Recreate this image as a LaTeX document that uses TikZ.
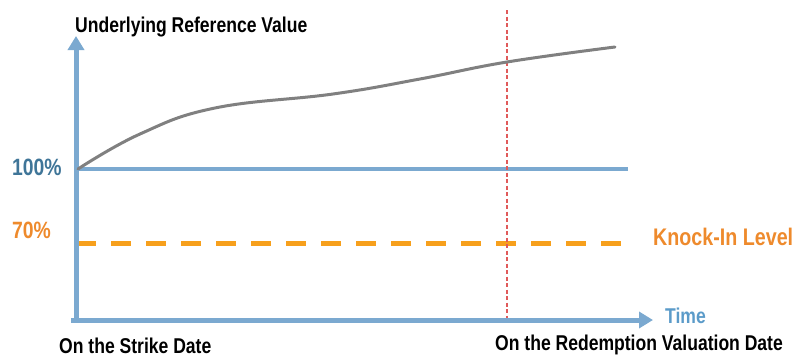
\documentclass[tikz,border=0pt]{standalone}
\usepackage{fontspec}
\setmainfont{Liberation Sans}[FakeStretch=0.82]
\usetikzlibrary{arrows.meta}
\definecolor{axisblue}{HTML}{7BA9D0}
\definecolor{darkblue}{HTML}{3F7598}
\definecolor{timeblue}{HTML}{5B9BC9}
\definecolor{orangeline}{HTML}{F7A01C}
\definecolor{orangetext}{HTML}{EE8A2C}
\definecolor{redline}{HTML}{E05A5A}
\definecolor{curvegray}{HTML}{808080}
\tikzset{
  axisline/.style={draw=axisblue,line width=5pt,-{Triangle[length=14pt,width=16pt]}},
  lvl/.style={draw=axisblue,line width=4.5pt},
  knock/.style={draw=orangeline,line width=5pt,dash pattern=on 20pt off 15pt},
  redeem/.style={draw=redline,line width=1.6pt,dash pattern=on 4pt off 2.5pt},
  curve/.style={draw=curvegray,line width=3pt,line cap=round},
  lbl/.style={inner sep=0pt,anchor=base west,font=\bfseries\fontsize{21.4pt}{24pt}\selectfont}
}
\begin{document}
\begin{tikzpicture}[x=1pt,y=-1pt]
\useasboundingbox (0,0) rectangle (797,356);
% coordinates
\coordinate (O) at (76,322);
\coordinate (ytip) at (76,36);
\coordinate (xstart) at (71,320);
\coordinate (xtip) at (653,320);
\coordinate (h0) at (76,169);
\coordinate (h1) at (628,169);
\coordinate (k0) at (76,243);
\coordinate (k1) at (627,243);
\coordinate (r0) at (507,10);
\coordinate (r1) at (507,318);
% lines
\draw[lvl] (h0) -- (h1);
\draw[knock] (k0) -- (k1);
\draw[axisline] (O) -- (ytip);
\draw[axisline] (xstart) -- (xtip);
\draw[redeem] (r0) -- (r1);
\draw[curve] plot[smooth,tension=0.7] coordinates {(78,169) (140,134) (215,108) (333,94) (420,79) (507,62) (615,47)};
% labels
\node[lbl,text=black] (ylab) at (75,32) {Underlying Reference Value};
\node[lbl,text=darkblue,font=\bfseries\fontsize{23.6pt}{26pt}\selectfont] (p100) at (12,175) {100\%};
\node[lbl,text=orangetext,font=\bfseries\fontsize{23.6pt}{26pt}\selectfont] (p70) at (12,238) {70\%};
\node[lbl,text=orangetext,font=\bfseries\fontsize{24pt}{26pt}\selectfont] (kil) at (653,245) {Knock-In Level};
\node[lbl,text=timeblue] (time) at (665,323) {Time};
\node[lbl,text=black] (strike) at (59,353) {On the Strike Date};
\node[lbl,text=black] (redv) at (495,350) {On the Redemption Valuation Date};
\end{tikzpicture}
\end{document}
